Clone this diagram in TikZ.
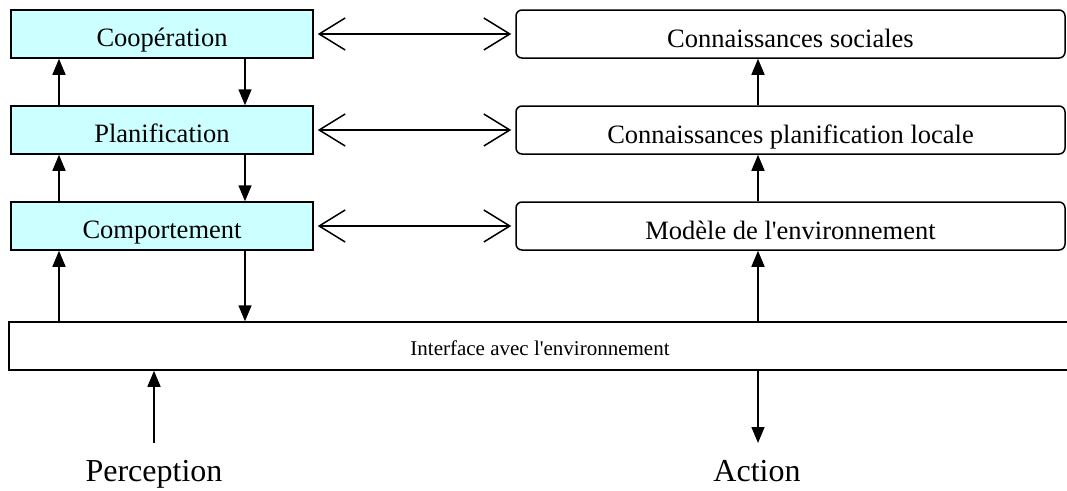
\documentclass[tikz,border=0pt]{standalone}
\usepackage{fontspec}
\setmainfont{Liberation Serif}
\usetikzlibrary{arrows.meta, positioning, calc}
\definecolor{layercyan}{RGB}{204, 255, 255}

\begin{document}
\begin{tikzpicture}[
        x=1pt, y=-1pt,
        layer/.style={rectangle, draw, line width=1.5pt, fill=layercyan, minimum width=302pt, minimum height=48pt, inner sep=0pt, text height=34pt, text depth=10pt, font=\fontsize{26.5}{30}\selectfont},
        know/.style={rectangle, draw, line width=1.5pt, rounded corners=6pt, minimum width=549pt, minimum height=48pt, inner sep=0pt, text height=35pt, text depth=9pt, font=\fontsize{26.5}{30}\selectfont},
        arrow/.style={-{Triangle[length=16pt, width=13pt]}, line width=1.5pt},
        link/.style={{Straight Barb[length=26pt, width=32pt]}-{Straight Barb[length=26pt, width=32pt]}, line width=1.5pt}
    ]
        \useasboundingbox (0,0) rectangle (1067,490);

        % Left column: layers
        \node[layer] (coop) at (162,34) {Coopération};
        \node[layer] (plan) at (162,130) {Planification};
        \node[layer] (comp) at (162,226) {Comportement};

        % Right column: knowledge
        \node[know] (social) at (790.5,34) {Connaissances sociales};
        \node[know] (local) at (790.5,130) {Connaissances planification locale};
        \node[know] (model) at (790.5,226) {Modèle de l\textquotesingle environnement};

        % Interface
        \node[rectangle, draw, line width=1.5pt, minimum width=1062pt, minimum height=48pt, inner sep=0pt, text height=28pt, text depth=10pt, font=\fontsize{21}{24}\selectfont] (iface) at (540,346) {Interface avec l\textquotesingle environnement};

        % Perception and Action
        \coordinate (perc) at (154,443);
        \coordinate (act) at (758,443);
        \node[anchor=base, font=\fontsize{32}{36}\selectfont] (perc_lbl) at (154,481) {Perception};
        \node[anchor=base, font=\fontsize{32}{36}\selectfont] (act_lbl) at (757,481) {Action};

        % Arrows - up and down through the layers
        \draw[arrow] ([xshift=-103pt]plan.north) -- ([xshift=-103pt]coop.south);
        \draw[arrow] ([xshift=-103pt]comp.north) -- ([xshift=-103pt]plan.south);
        \draw[arrow] ([xshift=-103pt]comp.north |- iface.north) -- ([xshift=-103pt]comp.south);
        \draw[arrow] ([xshift=83pt]coop.south) -- ([xshift=83pt]plan.north);
        \draw[arrow] ([xshift=83pt]plan.south) -- ([xshift=83pt]comp.north);
        \draw[arrow] ([xshift=83pt]comp.south) -- ([xshift=83pt]comp.south |- iface.north);

        % Arrows - knowledge column
        \draw[arrow] (act |- iface.north) -- (act |- model.south);
        \draw[arrow] (act |- model.north) -- (act |- local.south);
        \draw[arrow] (act |- local.north) -- (act |- social.south);

        % Links between layers and knowledge
        \draw[link] ([xshift=4pt]coop.east) -- ([xshift=-4pt]social.west);
        \draw[link] ([xshift=4pt]plan.east) -- ([xshift=-4pt]local.west);
        \draw[link] ([xshift=4pt]comp.east) -- ([xshift=-4pt]model.west);

        % Perception and Action arrows
        \draw[arrow] (perc) -- (perc |- iface.south);
        \draw[arrow] (act |- iface.south) -- (act);
    \end{tikzpicture}
\end{document}
